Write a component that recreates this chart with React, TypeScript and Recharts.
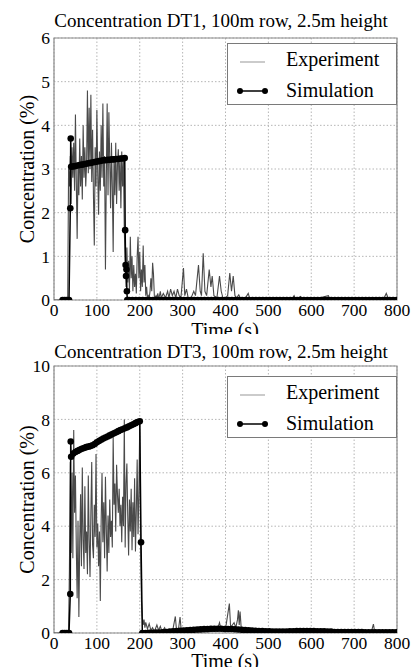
import { CartesianGrid, Legend, Line, LineChart, ReferenceArea, XAxis, YAxis } from "recharts";

const FONT = "'Liberation Serif', 'Times New Roman', serif";
const X_TICKS = [0, 100, 200, 300, 400, 500, 600, 700, 800];

// ---- DT1 ----
const DT1_Y_TICKS = [0, 1, 2, 3, 4, 5, 6];
// experiment burst, sampled every 2 s from t = 30 s
const DT1_EXP_START = 30;
const DT1_EXP_STEP = 2;
const DT1_EXP_BURST = [
  0, 0, 3.0, 2.6, 3.3, 2.2, 3.5, 2.8, 3.6, 2.5, 4.25, 2.7, 1.4, 3.1, 2.4, 3.7, 2.6, 3.3, 2.3, 4.0,
  2.8, 3.5, 2.6, 3.1, 4.8, 2.9, 4.4, 3.0, 4.7, 2.7, 3.9, 2.4, 1.25, 3.5, 2.6, 4.35, 2.9, 1.95, 3.4, 2.5,
  4.0, 2.8, 4.5, 2.6, 3.3, 0.7, 2.8, 4.5, 2.4, 4.3, 3.2, 2.1, 3.6, 2.6, 1.1, 3.3, 2.4, 3.6, 2.2, 3.1,
  3.45, 2.5, 3.3, 2.1, 3.4, 2.6, 3.2, 1.6, 0.9, 0.3, 1.2, 0.4, 0.9, 0.2, 1.45, 0.5, 1.0, 0.2, 0.8, 0.3,
  0.6, 0.15, 1.0, 1.45, 0.5, 1.1, 0.2, 0.7, 0.3, 1.25, 0.4, 0.8, 0.1, 0.3, 0.05, 0.1, 0.05, 0.2, 0.5, 0.2,
  0.85, 0.6, 0.1, 0.05, 0.1, 0.05, 0.15, 0.05, 0.1, 0.2, 0.05,
];
const DT1_EXP_TAIL_T = [
  0, 28, 255, 260, 265, 268, 272, 276, 280, 284, 288, 292, 296, 302, 305, 309, 313, 320, 326, 330,
  337, 341, 344, 348, 352, 356, 362, 366, 369, 373, 380, 386, 390, 394, 400, 405, 410, 414, 418, 422,
  426, 431, 436, 445, 453, 457, 480, 520, 555, 560, 564, 575, 580, 600, 604, 640, 644, 660, 700, 740,
  770, 775, 780, 800,
];
const DT1_EXP_TAIL_V = [
  0, 0, 0.15, 0.05, 0.2, 0.05, 0.25, 0.1, 0.2, 0.05, 0.25, 0.1, 0.05, 0.73, 0.1, 0.25, 0.05, 0.05, 0.2, 0.1,
  0.8, 0.2, 0.1, 1.07, 0.2, 0.1, 0.7, 0.3, 0.55, 0.1, 0.05, 0.55, 0.2, 0.05, 0.05, 0.1, 0.62, 0.2, 0.55, 0.1,
  0.05, 0.12, 0.02, 0.02, 0.15, 0.02, 0.01, 0.01, 0.02, 0.1, 0.02, 0.08, 0.02, 0.05, 0.01, 0.1, 0.01, 0.02, 0.01, 0.02,
  0.05, 0.15, 0.03, 0.01,
];
const DT1_SIM_T = [
  20, 25, 30, 35, 38, 39, 40, 45, 50, 55, 60, 65, 70, 75, 80, 85, 90, 95, 100, 105,
  110, 115, 120, 125, 130, 135, 140, 145, 150, 155, 160, 165, 166, 167, 168, 169, 170, 171,
];
const DT1_SIM_V = [
  0, 0, 0, 0, 2.1, 3.7, 3.05, 3.06, 3.07, 3.08, 3.09, 3.1, 3.11, 3.12, 3.13, 3.14, 3.15, 3.16, 3.17, 3.18,
  3.19, 3.2, 3.2, 3.21, 3.21, 3.22, 3.22, 3.23, 3.23, 3.24, 3.24, 3.25, 1.6, 0.8, 0.55, 0.7, 0.2, 0,
];
// simulation after the release, sampled every 8 s from t = 175 s
const DT1_SIM_TAIL_START = 175;
const DT1_SIM_TAIL_STEP = 8;
const DT1_SIM_TAIL = [
  0, 0, 0, 0, 0, 0, 0, 0, 0, 0, 0, 0, 0, 0, 0, 0, 0, 0, 0, 0,
  0, 0, 0, 0, 0, 0, 0, 0, 0, 0, 0, 0, 0, 0, 0, 0, 0, 0, 0, 0,
  0, 0, 0, 0, 0, 0, 0, 0, 0, 0, 0, 0, 0, 0, 0, 0, 0, 0, 0, 0,
  0, 0, 0, 0, 0, 0, 0, 0, 0, 0, 0, 0, 0, 0, 0, 0, 0, 0, 0,
];

// ---- DT3 ----
const DT3_Y_TICKS = [0, 2, 4, 6, 8, 10];
const DT3_EXP_START = 30;
const DT3_EXP_STEP = 2;
const DT3_EXP_BURST = [
  0, 0, 0.1, 2.4, 6.4, 3.0, 6.0, 2.8, 7.6, 4.5, 5.9, 3.2, 1.3, 4.2, 0.6, 3.4, 5.2, 2.5, 6.2, 3.5,
  2.4, 5.5, 3.0, 3.8, 2.2, 5.9, 3.5, 2.1, 4.5, 6.4, 3.3, 2.8, 4.8, 3.6, 6.7, 3.2, 4.1, 2.5, 3.8, 1.2,
  4.2, 6.0, 3.4, 4.9, 2.8, 5.85, 3.9, 2.3, 4.4, 3.0, 5.0, 3.6, 4.2, 3.2, 7.35, 4.8, 5.6, 3.8, 6.3, 5.2,
  4.5, 5.4, 4.0, 4.8, 3.4, 5.1, 4.0, 8.0, 3.2, 5.6, 6.35, 4.4, 2.9, 5.0, 3.8, 5.4, 3.1, 4.9, 3.6, 5.8,
  3.05, 4.6, 6.5, 3.7, 5.2, 7.9, 3.4, 1.2, 0.6, 0.3, 0.5, 0.2, 0.4,
];
const DT3_EXP_TAIL_T = [
  0, 28, 218, 222, 226, 230, 234, 240, 244, 248, 252, 258, 262, 270, 276, 283, 286, 290, 294, 297,
  305, 320, 340, 360, 380, 386, 390, 400, 409, 412, 416, 420, 424, 428, 430, 432, 434, 437, 445, 480,
  520, 560, 600, 650, 700, 740, 745, 748, 800,
];
const DT3_EXP_TAIL_V = [
  0, 0, 0.15, 0.35, 0.1, 0.2, 0.05, 0.3, 0.1, 0.25, 0.05, 0.2, 0.05, 0.1, 0.02, 0.62, 0.05, 0.1, 0.6, 0.05,
  0.02, 0.05, 0.03, 0.05, 0.08, 0.39, 0.1, 0.15, 1.1, 0.2, 0.3, 0.39, 0.2, 0.5, 0.85, 0.3, 0.8, 0.1, 0.05, 0.03,
  0.03, 0.03, 0.02, 0.02, 0.02, 0.03, 0.33, 0.03, 0.02,
];
const DT3_SIM_T = [
  20, 25, 30, 35, 38, 39, 40, 45, 50, 55, 60, 65, 70, 75, 80, 85, 90, 95, 100, 105,
  110, 115, 120, 125, 130, 135, 140, 145, 150, 155, 160, 165, 170, 175, 180, 185, 190, 195, 200, 203,
];
const DT3_SIM_V = [
  0, 0, 0, 0, 1.46, 7.17, 6.6, 6.72, 6.78, 6.82, 6.86, 6.9, 6.93, 6.96, 6.98, 7.0, 7.03, 7.08, 7.14, 7.19,
  7.24, 7.28, 7.32, 7.36, 7.4, 7.44, 7.48, 7.52, 7.56, 7.6, 7.63, 7.67, 7.7, 7.74, 7.78, 7.82, 7.86, 7.9, 7.93, 3.4,
];
const DT3_SIM_TAIL_START = 206;
const DT3_SIM_TAIL_STEP = 8;
const DT3_SIM_TAIL = [
  0, 0, 0.01, 0.01, 0.02, 0.02, 0.03, 0.04, 0.05, 0.06, 0.07, 0.08, 0.09, 0.1, 0.11, 0.12, 0.13, 0.14, 0.15, 0.15,
  0.16, 0.16, 0.16, 0.16, 0.15, 0.15, 0.15, 0.14, 0.13, 0.12, 0.11, 0.1, 0.09, 0.08, 0.07, 0.07, 0.06, 0.06, 0.05, 0.05,
  0.05, 0.05, 0.05, 0.06, 0.06, 0.07, 0.07, 0.07, 0.07, 0.07, 0.07, 0.06, 0.06, 0.06, 0.05, 0.05, 0.04, 0.04, 0.04, 0.04,
  0.04, 0.04, 0.04, 0.04, 0.04, 0.03, 0.03, 0.03, 0.03, 0.03, 0.03, 0.03, 0.03, 0.03, 0.03,
];

type Row = { t: number; v: number };

function gridRows(start: number, step: number, values: number[]): Row[] {
  return values.map((v, i) => ({ t: start + i * step, v }));
}

function pairRows(times: number[], values: number[]): Row[] {
  return times.map((t, i) => ({ t, v: values[i] }));
}

const byTime = (a: Row, b: Row) => a.t - b.t;

const dt1Exp = [
  ...gridRows(DT1_EXP_START, DT1_EXP_STEP, DT1_EXP_BURST),
  ...pairRows(DT1_EXP_TAIL_T, DT1_EXP_TAIL_V),
].sort(byTime);
const dt1Sim = [
  ...pairRows(DT1_SIM_T, DT1_SIM_V),
  ...gridRows(DT1_SIM_TAIL_START, DT1_SIM_TAIL_STEP, DT1_SIM_TAIL),
];
const dt3Exp = [
  ...gridRows(DT3_EXP_START, DT3_EXP_STEP, DT3_EXP_BURST),
  ...pairRows(DT3_EXP_TAIL_T, DT3_EXP_TAIL_V),
].sort(byTime);
const dt3Sim = [
  ...pairRows(DT3_SIM_T, DT3_SIM_V),
  ...gridRows(DT3_SIM_TAIL_START, DT3_SIM_TAIL_STEP, DT3_SIM_TAIL),
];

const EXP_COLOR = "#4a4a4a";

function LegendBox() {
  return (
    <div
      style={{
        width: 170,
        height: 62,
        boxSizing: "border-box",
        border: "1.5px solid #7a7a7a",
        background: "#fff",
      }}
    >
      <svg width={167} height={59} style={{ display: "block" }}>
        <line x1={12} y1={18} x2={37} y2={18} stroke="#a8a8a8" strokeWidth={1.2} />
        <text x={58} y={21.5} fontFamily={FONT} fontSize={20} fill="#000">
          Experiment
        </text>
        <line x1={12} y1={47} x2={37} y2={47} stroke="#000" strokeWidth={1.5} />
        <circle cx={12} cy={47} r={3} fill="#000" />
        <circle cx={37} cy={47} r={3} fill="#000" />
        <text x={58} y={52.5} fontFamily={FONT} fontSize={20} fill="#000">
          Simulation
        </text>
      </svg>
    </div>
  );
}

interface PanelProps {
  title: string;
  yMax: number;
  yTicks: number[];
  exp: Row[];
  sim: Row[];
  height: number;
  clip: number;
  marginTop: number;
  marginBottom: number;
  titleBaseline: number;
  xLabelBaseline: number;
  legendTop: number;
}

function Panel(p: PanelProps) {
  const tick = { fill: "#000", fontSize: 17.5, fontFamily: FONT };
  const plotBottom = p.height - p.marginBottom - 30;
  const yMid = (p.marginTop + plotBottom) / 2;
  return (
    <div style={{ position: "relative", width: 411, height: p.clip, overflow: "hidden", background: "#fff" }}>
      <LineChart width={411} height={p.height} margin={{ top: p.marginTop, right: 14, bottom: p.marginBottom, left: 0 }}>
        <CartesianGrid stroke="#b5b5b5" strokeDasharray="1.5 2" />
        <XAxis
          type="number"
          dataKey="t"
          domain={[0, 800]}
          ticks={X_TICKS}
          interval={0}
          allowDataOverflow
          axisLine={false}
          tickLine={false}
          tickSize={4}
          tickMargin={0}
          tick={tick}
          height={30}
        />
        <YAxis
          type="number"
          domain={[0, p.yMax]}
          ticks={p.yTicks}
          interval={0}
          allowDataOverflow
          axisLine={false}
          tickLine={false}
          tickSize={4}
          tickMargin={0}
          tick={tick}
          width={54}
        />
        <ReferenceArea x1={0} x2={800} y1={0} y2={p.yMax} fill="none" stroke="#8c8c8c" strokeWidth={1.2} />
        <Line
          data={p.exp}
          dataKey="v"
          type="linear"
          stroke={EXP_COLOR}
          strokeWidth={1.1}
          dot={false}
          isAnimationActive={false}
        />
        <Line
          data={p.sim}
          dataKey="v"
          type="linear"
          stroke="#000"
          strokeWidth={1.5}
          dot={{ r: 3.3, fill: "#000", stroke: "none" }}
          isAnimationActive={false}
        />
        <Legend
          layout="horizontal"
          verticalAlign="middle"
          align="center"
          wrapperStyle={{ top: p.legendTop, left: 227, width: 170, height: 62 }}
          content={() => <LegendBox />}
        />
      </LineChart>
      <svg
        width={411}
        height={p.clip}
        style={{ position: "absolute", left: 0, top: 0, pointerEvents: "none" }}
      >
        <text x={221} y={p.titleBaseline} textAnchor="middle" fontFamily={FONT} fontSize={19} fill="#000">
          {p.title}
        </text>
        <text
          x={34}
          y={yMid}
          transform={`rotate(-90 34 ${yMid})`}
          textAnchor="middle"
          fontFamily={FONT}
          fontSize={20}
          fill="#000"
        >
          Concentration (%)
        </text>
        <text x={225} y={p.xLabelBaseline} textAnchor="middle" fontFamily={FONT} fontSize={20} fill="#000">
          Time (s)
        </text>
      </svg>
    </div>
  );
}

export default function App() {
  return (
    <div style={{ position: "absolute", left: 0, top: 0, width: 411, height: 667, background: "#fff" }}>
      <Panel
        title="Concentration DT1, 100m row, 2.5m height"
        yMax={6}
        yTicks={DT1_Y_TICKS}
        exp={dt1Exp}
        sim={dt1Sim}
        height={345}
        clip={334}
        marginTop={38}
        marginBottom={15}
        titleBaseline={27}
        xLabelBaseline={337}
        legendTop={43}
      />
      <Panel
        title="Concentration DT3, 100m row, 2.5m height"
        yMax={10}
        yTicks={DT3_Y_TICKS}
        exp={dt3Exp}
        sim={dt3Sim}
        height={333}
        clip={333}
        marginTop={32}
        marginBottom={4}
        titleBaseline={24}
        xLabelBaseline={334}
        legendTop={42}
      />
    </div>
  );
}
